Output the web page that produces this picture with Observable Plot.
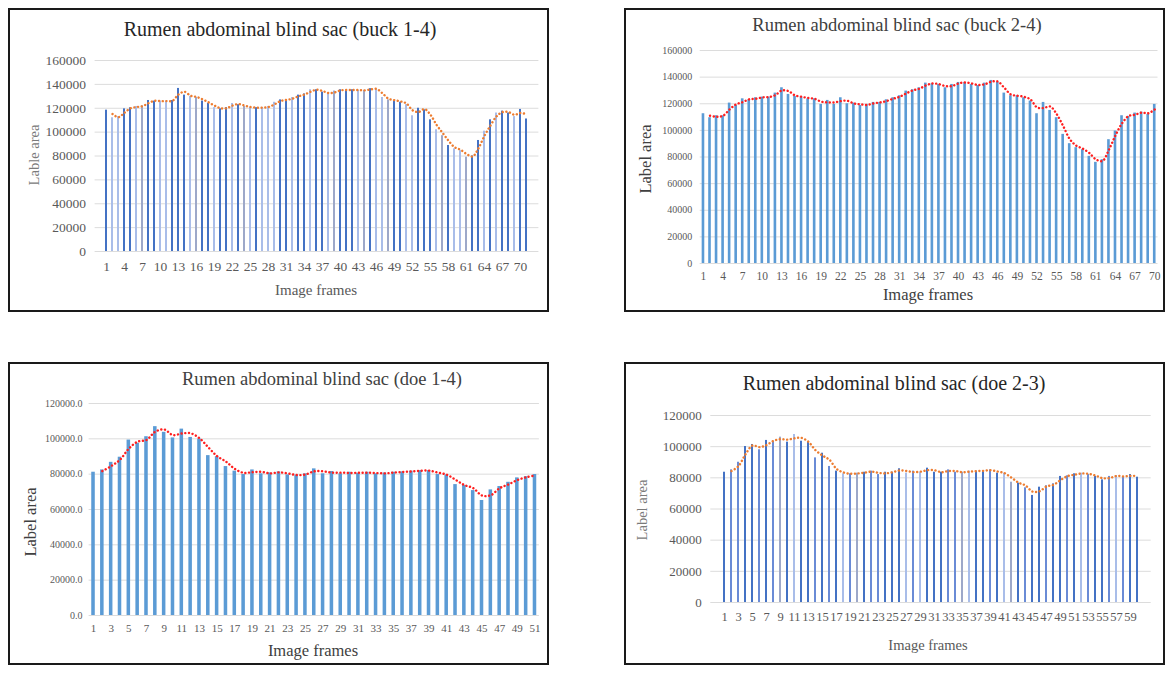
<!DOCTYPE html>
<html><head><meta charset="utf-8">
<script src="https://cdn.jsdelivr.net/npm/d3@7"></script>
<script src="https://cdn.jsdelivr.net/npm/@observablehq/plot@0.6"></script>
<style>
body{margin:0;width:1170px;height:675px;background:#fff;position:relative;overflow:hidden;font-family:"Liberation Serif","Times New Roman",serif;}
svg, svg text{font-family:"Liberation Serif","Times New Roman",serif !important;}
.frame{position:absolute;border:2px solid #1a1a1a;box-sizing:border-box;}
.t{position:absolute;white-space:nowrap;transform:translate(-50%,-50%);line-height:1;}
.yl{position:absolute;white-space:nowrap;transform:translate(-50%,-50%) rotate(-90deg);line-height:1;}
</style></head><body>
<script>
// ---------- data ----------
const titles = [
  "Rumen abdominal blind sac (buck 1-4)",
  "Rumen abdominal blind sac (buck 2-4)",
  "Rumen abdominal blind sac (doe 1-4)",
  "Rumen abdominal blind sac (doe 2-3)"
];
const xTitle = "Image frames";
const yTitles = ["Lable area", "Label area", "Label area", "Label area"];

const buck14 = [
  118400,112000,113000,119500,120400,121500,122000,126500,126000,126000,
  126000,126500,136600,131000,130000,129000,126000,124000,120500,119500,
  120500,124000,123000,121500,120500,120500,120500,121500,125000,127000,
  127000,129000,131000,132000,135500,135500,133500,132000,134400,135500,
  135000,135500,135000,135000,136400,136000,129000,127000,126500,125000,
  123000,113700,120000,118700,110300,102000,97000,88800,86000,84500,
  79000,80000,93000,100800,110300,116000,117600,116000,113000,119000,111000
];
const buck24 = [
  112500,109500,111000,111000,120500,118700,123700,123000,124500,125000,
  125000,128000,132000,127000,125500,125000,123700,123700,119500,122500,
  119500,124500,120000,120500,118700,119500,121000,121000,123000,124500,
  126000,129500,130500,132000,135500,135000,134500,132000,134500,136000,
  136000,134500,133700,135500,137500,136000,128000,126000,126000,124500,
  122000,112500,121000,115000,109500,97000,90000,87000,85500,80500,
  76000,78000,93000,99500,111000,110500,113000,113700,112000,119500
];
const doe14 = [
  81100,82400,86700,89600,99300,97500,101200,106900,103700,100500,
  105500,100800,99900,90500,89900,84300,81700,79800,82400,80200,
  80700,81300,79600,79400,80200,83000,80200,81500,80200,81100,
  80500,81100,80200,80700,81100,81300,81700,82000,82000,79800,
  79600,74100,73600,70700,65100,71100,73000,75400,77900,78600,79800
];
const doe23 = [
  83600,85100,90000,100100,101400,98000,104000,103500,106100,102900,
  107800,103500,102700,92800,95800,87300,84300,82600,82600,83000,
  83600,84300,82100,83600,83600,85800,83000,84300,83600,86200,
  83600,83600,85100,83600,83600,84300,84300,84700,85100,83000,
  83000,77200,76600,73600,68700,74000,74900,76100,80900,81300,
  82600,83000,82100,80900,78700,80900,81500,80400,82100,80400
];
// per-bar shade codes (Excel "vary colors by point")
const buck14Shades = "DLLDDLGDDLLDDDLGDDLDDLDGLDLLLDDLDDLDD" + "LGDDDLGDLLGDDLLDDDLGDLLGDDLDLDDLDD";
const doe23Shades  = "DMMDDMDMGDLDDMDMDLMGDMMDDDLMLDD" + "DMMGLDDMDLGDMDDMDDMDLMDDMLMDD";

const yTicks160 = [0,20000,40000,60000,80000,100000,120000,140000,160000];
const yTicks120 = [0,20000,40000,60000,80000,100000,120000];

// ---------- styling / layout ----------
const serif = '"Liberation Serif","Times New Roman",serif';
const shadeColor = {D:"#4472C4", M:"#6A8BD6", L:"#A9BDE9", G:"#9DA8C9", U:"#5B9BD5"};

const panels = [
  {values: buck14, shades: buck14Shades, title: titles[0], yTitle: yTitles[0], yTicks: yTicks160, step: 3,
   box:[8,8,549,312], plot:[94.6,60,538.4,251], pad:0.64, trend:"#ED7D31",
   yFont:13.5, yPad:9, yFmt: d => String(d), xFont:13.5, xPad:10,
   tPos:[280,29], tFont:20, tColor:"#262626", xtPos:[316,290], xtFont:15, xtColor:"#595959",
   ytPos:[34,155], ytFont:14.5, ytColor:"#7a7a7a", tickColor:"#595959"},
  {values: buck24, shades: null, title: titles[1], yTitle: yTitles[1], yTicks: yTicks160, step: 3,
   box:[624,8,1165,312], plot:[699.7,50,1157.5,263], pad:0.6, trend:"#FF1F1F",
   yFont:10, yPad:8, yFmt: d => String(d), xFont:11.5, xPad:8,
   tPos:[897,25], tFont:18.5, tColor:"#404040", xtPos:[928,295], xtFont:16.5, xtColor:"#404040",
   ytPos:[646,159], ytFont:16.5, ytColor:"#404040", tickColor:"#595959"},
  {values: doe14, shades: null, title: titles[2], yTitle: yTitles[2], yTicks: yTicks120, step: 2,
   box:[8,362,549,665], plot:[88.6,403,538.9,615], pad:0.6, trend:"#FF1F1F",
   yFont:10, yPad:6.5, yFmt: d => d.toFixed(1), xFont:11, xPad:8.5,
   tPos:[322,379], tFont:18.5, tColor:"#404040", xtPos:[313,651], xtFont:16.5, xtColor:"#404040",
   ytPos:[31,522], ytFont:16.5, ytColor:"#404040", tickColor:"#595959"},
  {values: doe23, shades: doe23Shades, title: titles[3], yTitle: yTitles[3], yTicks: yTicks120, step: 2,
   box:[624,362,1165,665], plot:[710.3,415,1150.7,602], pad:0.66, trend:"#ED7D31",
   yFont:13, yPad:9, yFmt: d => String(d), xFont:12.5, xPad:9.5,
   tPos:[894,383], tFont:20, tColor:"#262626", xtPos:[928,645], xtFont:14.5, xtColor:"#595959",
   ytPos:[642,510], ytFont:14.5, ytColor:"#7a7a7a", tickColor:"#595959"}
];

function addText(cls, txt, x, y, size, color) {
  const d = document.createElement("div");
  d.className = cls; d.textContent = txt;
  d.style.left = x + "px"; d.style.top = y + "px";
  d.style.fontSize = size + "px"; d.style.color = color;
  document.body.appendChild(d);
}

panels.forEach(p => {
  const frames = d3.range(1, p.values.length + 1);
  const xTicks = frames.filter((f, i) => i % p.step === 0);
  const data = p.values.map((v, i) => ({frame: frames[i], value: v, color: shadeColor[p.shades ? p.shades[i] : "U"]}));
  const [bx0, by0, bx1, by1] = p.box;
  const [px0, py0, px1, py1] = p.plot;

  const fr = document.createElement("div");
  fr.className = "frame";
  fr.style.left = bx0 + "px"; fr.style.top = by0 + "px";
  fr.style.width = (bx1 - bx0) + "px"; fr.style.height = (by1 - by0) + "px";
  document.body.appendChild(fr);

  const chart = Plot.plot({
    width: bx1 - bx0,
    height: by1 - by0,
    marginLeft: px0 - bx0,
    marginRight: bx1 - px1,
    marginTop: py0 - by0,
    marginBottom: by1 - py1,
    style: {background: "transparent", fontFamily: serif, color: p.tickColor, overflow: "visible"},
    x: {type: "band", domain: frames, paddingInner: p.pad, paddingOuter: p.pad / 2, label: null, axis: null},
    y: {domain: [p.yTicks[0], p.yTicks[p.yTicks.length - 1]], label: null, axis: null},
    color: {type: "identity"},
    marks: [
      Plot.gridY(p.yTicks, {stroke: "#dcdcdc", strokeOpacity: 1, strokeWidth: 1}),
      Plot.barY(data, {x: "frame", y: "value", fill: "color"}),
      Plot.lineY(data, Plot.windowY({k: 2, anchor: "end", strict: true},
        {x: "frame", y: "value", stroke: p.trend, strokeWidth: 2.4, strokeDasharray: "0.1 3.6",
         strokeLinecap: "round", curve: "catmull-rom"})),
      Plot.axisY(p.yTicks, {tickSize: 0, tickPadding: p.yPad, tickFormat: p.yFmt, fontSize: p.yFont, fontFamily: serif, label: null}),
      Plot.axisX(xTicks, {tickSize: 0, tickPadding: p.xPad, fontSize: p.xFont, fontFamily: serif, label: null})
    ]
  });
  chart.style.position = "absolute";
  chart.style.left = bx0 + "px";
  chart.style.top = by0 + "px";
  document.body.appendChild(chart);

  addText("t", p.title, p.tPos[0], p.tPos[1], p.tFont, p.tColor);
  addText("t", xTitle, p.xtPos[0], p.xtPos[1], p.xtFont, p.xtColor);
  addText("yl", p.yTitle, p.ytPos[0], p.ytPos[1], p.ytFont, p.ytColor);
});
</script>
</body></html>
